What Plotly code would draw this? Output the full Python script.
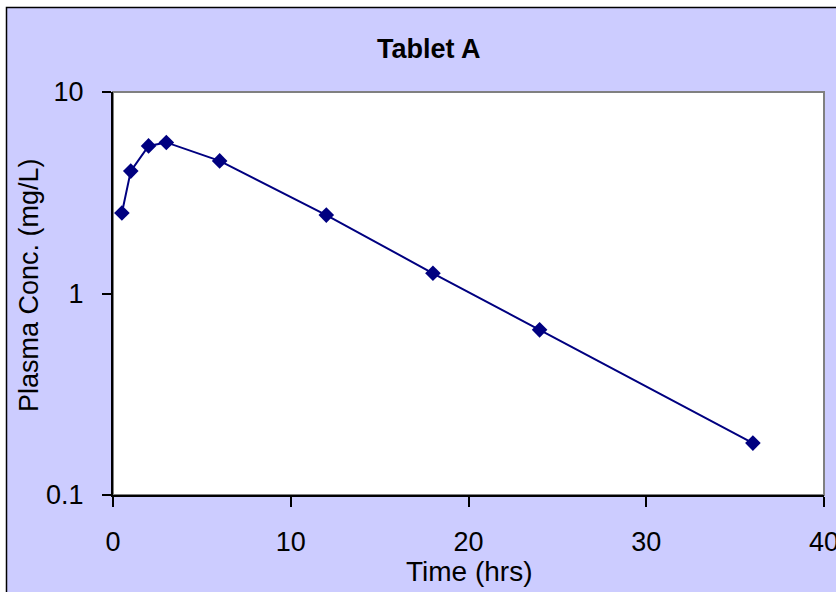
import plotly.graph_objects as go

time_hrs = [0.5, 1, 2, 3, 6, 12, 18, 24, 36]
conc = [2.51, 4.05, 5.4, 5.62, 4.55, 2.45, 1.26, 0.66, 0.181]
x_ticks = [0, 10, 20, 30, 40]
y_ticks = [0.1, 1, 10]
y_tick_text = ["0.1", "1", "10"]

W, H = 836, 592
L, R, T, B = 113, 12, 92, 97
pw, ph = W - L - R, H - T - B

def px_x(p):
    return (p - L) / pw

def px_y(p):
    return (H - B - p) / ph

font = dict(family="Liberation Sans, Arial, sans-serif", color="black")

fig = go.Figure()
fig.add_trace(go.Scatter(
    x=time_hrs, y=conc, mode="lines+markers",
    line=dict(color="#000080", width=2),
    marker=dict(symbol="diamond", size=12, color="#000080"),
    showlegend=False,
    cliponaxis=False,
))

fig.update_layout(
    width=W, height=H,
    margin=dict(l=L, r=R, t=T, b=B, pad=0),
    paper_bgcolor="white",
    plot_bgcolor="white",
    font=dict(size=26, **font),
    shapes=[
        dict(type="rect", xref="paper", yref="paper",
             x0=px_x(6.5), x1=px_x(850),
             y0=px_y(610), y1=px_y(7.5),
             fillcolor="#CCCCFF", line=dict(color="black", width=1.5), layer="below"),
        dict(type="rect", xref="paper", yref="paper",
             x0=0, x1=1, y0=0, y1=1,
             fillcolor="white", line=dict(color="#808080", width=2), layer="below"),
    ],
    annotations=[
        dict(text="<b>Tablet A</b>", xref="paper", yref="paper",
             x=px_x(429), y=px_y(49),
             xanchor="center", yanchor="middle", showarrow=False,
             font=dict(size=27, **font)),
        dict(text="Time (hrs)", xref="paper", yref="paper",
             x=px_x(469), y=px_y(571),
             xanchor="center", yanchor="middle", showarrow=False,
             font=dict(size=28, **font)),
        dict(text="Plasma Conc. (mg/L)", xref="paper", yref="paper",
             x=px_x(29), y=px_y(285), textangle=-90,
             xanchor="center", yanchor="middle", showarrow=False,
             font=dict(size=27, **font)),
    ],
    xaxis=dict(
        range=[0, 40], tickvals=x_ticks, ticks="outside", ticklen=10,
        tickcolor="black", tickwidth=1.5, showgrid=False, zeroline=False,
        showline=True, linecolor="black", linewidth=2,
        tickfont=dict(size=27, **font), ticklabelstandoff=12,
        ticklabeloverflow="allow", automargin=False,
    ),
    yaxis=dict(
        type="log", range=[-1, 1], tickvals=y_ticks, ticktext=y_tick_text,
        ticks="outside", ticklen=9, tickcolor="black", tickwidth=1.5, showgrid=False,
        zeroline=False, showline=True, linecolor="black", linewidth=2,
        tickfont=dict(size=27, **font), ticklabelstandoff=13,
        ticklabeloverflow="allow", automargin=False,
    ),
)

fig.write_html(
    "out.html",
    config={"displayModeBar": False},
    post_script="document.body.style.margin='0';document.body.style.overflow='hidden';",
)
